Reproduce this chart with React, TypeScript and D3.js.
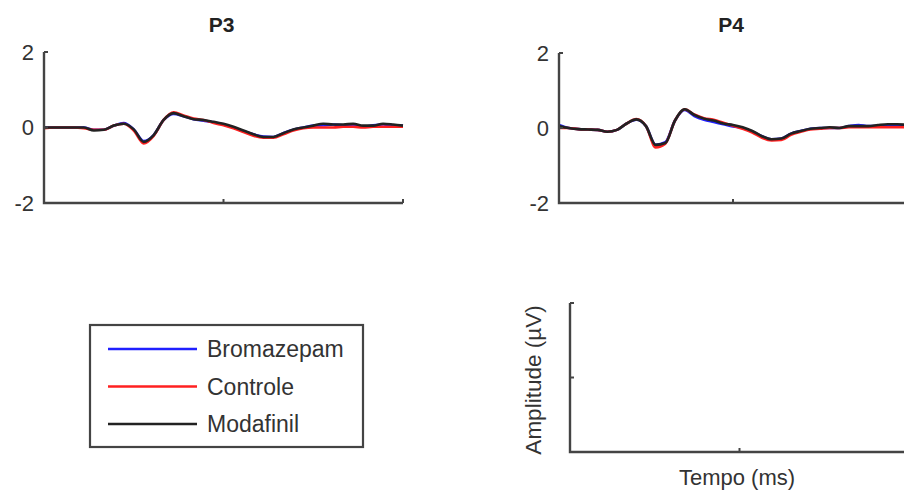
import React from "react";
import * as d3 from "d3";

// time samples (ms)
const time: number[] = Array.from({ length: 37 }, (_, i) => i * 20);

const p3Modafinil = [0.0, 0.0, 0.0, 0.0, 0.0, -0.08, -0.06, 0.05, 0.1, -0.05, -0.38, -0.2, 0.2, 0.38, 0.3, 0.22, 0.2, 0.15, 0.1, 0.02, -0.08, -0.18, -0.25, -0.25, -0.15, -0.05, 0.0, 0.05, 0.1, 0.08, 0.08, 0.1, 0.05, 0.05, 0.1, 0.08, 0.05];
const p3Bromazepam = [0.0, 0.0, 0.0, 0.0, 0.0, -0.06, -0.06, 0.05, 0.12, -0.05, -0.36, -0.2, 0.2, 0.36, 0.3, 0.22, 0.18, 0.14, 0.08, 0.0, -0.1, -0.18, -0.24, -0.25, -0.15, -0.06, 0.0, 0.05, 0.06, 0.08, 0.06, 0.06, 0.02, 0.06, 0.08, 0.06, 0.05];
const p3Controle = [-0.02, 0.0, 0.0, 0.0, -0.02, -0.06, -0.06, 0.05, 0.1, -0.08, -0.42, -0.22, 0.2, 0.4, 0.32, 0.24, 0.2, 0.12, 0.06, -0.02, -0.12, -0.22, -0.27, -0.27, -0.18, -0.08, -0.02, 0.0, 0.0, 0.0, 0.02, 0.02, 0.0, 0.02, 0.02, 0.02, 0.02];

const p4Modafinil = [0.05, 0.0, -0.03, -0.04, -0.05, -0.1, -0.05, 0.12, 0.23, 0.05, -0.45, -0.4, 0.2, 0.5, 0.35, 0.25, 0.2, 0.12, 0.08, 0.02, -0.08, -0.22, -0.3, -0.28, -0.15, -0.08, -0.02, 0.0, 0.02, 0.0, 0.05, 0.05, 0.05, 0.08, 0.1, 0.1, 0.08];
const p4Bromazepam = [0.08, 0.0, -0.03, -0.04, -0.05, -0.1, -0.05, 0.12, 0.22, 0.05, -0.45, -0.38, 0.2, 0.48, 0.32, 0.22, 0.16, 0.1, 0.04, 0.0, -0.1, -0.22, -0.3, -0.28, -0.15, -0.08, -0.02, 0.0, 0.0, 0.0, 0.05, 0.08, 0.05, 0.05, 0.06, 0.06, 0.06];
const p4Controle = [0.0, 0.0, -0.03, -0.04, -0.05, -0.1, -0.05, 0.12, 0.24, 0.05, -0.52, -0.42, 0.2, 0.5, 0.36, 0.26, 0.22, 0.14, 0.06, -0.02, -0.12, -0.26, -0.33, -0.32, -0.18, -0.1, -0.04, -0.02, 0.0, 0.0, 0.02, 0.02, 0.02, 0.02, 0.02, 0.02, 0.02];

const legendLabels = ["Bromazepam", "Controle", "Modafinil"];
const legendColors = ["#2020ff", "#ff2020", "#222222"];
const yTicks = [-2, 0, 2];
const panelTitles = ["P3", "P4"];
const yLabel = "Amplitude (µV)";
const xLabel = "Tempo (ms)";

const FONT = "'Liberation Sans', Arial, Helvetica, sans-serif";
const AXIS = "#444";

interface PanelProps {
  x0: number; x1: number; y0: number; y1: number;
  title?: string;
  series?: number[][];
  showTickLabels?: boolean;
}

function Panel({ x0, x1, y0, y1, title, series, showTickLabels }: PanelProps) {
  const xs = d3.scaleLinear().domain([time[0], time[time.length - 1]]).range([x0, x1]);
  const ys = d3.scaleLinear().domain([-2, 2]).range([y1, y0]);
  const line = d3.line<number>().x((_, i) => xs(time[i])).y((d) => ys(d)).curve(d3.curveMonotoneX);
  const xMid = (time[0] + time[time.length - 1]) / 2;
  return (
    <g>
      {title && (
        <text x={(x0 + x1) / 2 - 2} y={32} textAnchor="middle" fontFamily={FONT} fontWeight="bold" fontSize={21} fill="#222">{title}</text>
      )}
      {series && series.map((s, k) => (
        <path key={k} d={line(s) || ""} fill="none" stroke={legendColors[k]} strokeWidth={2.6} strokeLinejoin="round" />
      ))}
      <path d={`M${x0},${ys(2)} L${x0},${ys(-2)} L${x1},${ys(-2)}`} fill="none" stroke={AXIS} strokeWidth={2.4} />
      {yTicks.map((t) => (
        <line key={t} x1={x0} x2={x0 + 4} y1={ys(t)} y2={ys(t)} stroke={AXIS} strokeWidth={2} />
      ))}
      {[time[0], xMid, time[time.length - 1]].map((t, i) => (
        <line key={i} x1={xs(t)} x2={xs(t)} y1={ys(-2)} y2={ys(-2) - 4} stroke={AXIS} strokeWidth={2} />
      ))}
      {showTickLabels && yTicks.map((t) => (
        <text key={t} x={x0 - 10} y={ys(t)} dy="0.36em" textAnchor="end" fontFamily={FONT} fontSize={22} fill="#333">{t}</text>
      ))}
    </g>
  );
}

export default function App() {
  return (
    <svg width={904} height={492} style={{ position: "absolute", left: 0, top: 0, background: "#fff" }}>
      <rect x={0} y={0} width={904} height={492} fill="#fff" />
      <Panel x0={44} x1={403} y0={52} y1={203} title={panelTitles[0]} series={[p3Bromazepam, p3Controle, p3Modafinil]} showTickLabels />
      <Panel x0={559} x1={907} y0={53} y1={203} title={panelTitles[1]} series={[p4Bromazepam, p4Controle, p4Modafinil]} showTickLabels />
      <Panel x0={570} x1={909} y0={303} y1={452} />
      <text transform="translate(541,380) rotate(-90)" textAnchor="middle" fontFamily={FONT} fontSize={22.5} fill="#333">{yLabel}</text>
      <text x={737} y={485} textAnchor="middle" fontFamily={FONT} fontSize={22} fill="#333">{xLabel}</text>
      <rect x={90} y={325} width={273} height={122} fill="#fff" stroke={AXIS} strokeWidth={2.2} />
      {legendLabels.map((l, i) => {
        const y = 349 + i * 37.5;
        return (
          <g key={l}>
            <line x1={108} x2={197} y1={y} y2={y} stroke={legendColors[i]} strokeWidth={2.4} />
            <text x={207} y={y} dy="0.36em" fontFamily={FONT} fontSize={23} fill="#333">{l}</text>
          </g>
        );
      })}
    </svg>
  );
}
